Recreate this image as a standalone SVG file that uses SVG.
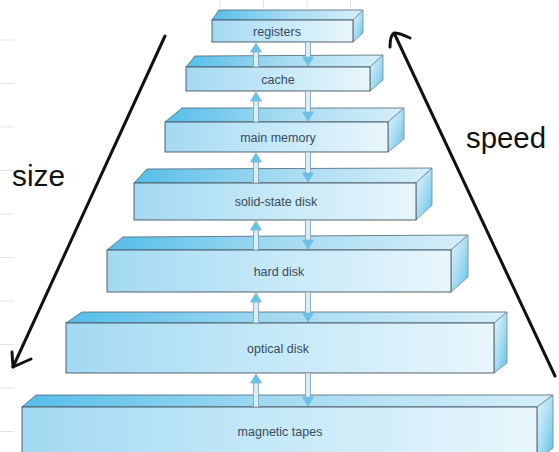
<svg xmlns="http://www.w3.org/2000/svg" width="559" height="452" viewBox="0 0 559 452">
  <defs>
    <linearGradient id="gFront" x1="0" y1="0" x2="1" y2="0">
      <stop offset="0" stop-color="#a3d9f3"/>
      <stop offset="0.5" stop-color="#c6e9f8"/>
      <stop offset="1" stop-color="#e8f6fc"/>
    </linearGradient>
    <linearGradient id="gTop" x1="0" y1="0" x2="1" y2="0">
      <stop offset="0" stop-color="#55bde9"/>
      <stop offset="0.5" stop-color="#a6dbf2"/>
      <stop offset="1" stop-color="#d6eff9"/>
    </linearGradient>
    <linearGradient id="gSide" x1="0" y1="0" x2="1" y2="1">
      <stop offset="0" stop-color="#e6f5fc"/>
      <stop offset="0.55" stop-color="#a3dbf3"/>
      <stop offset="1" stop-color="#5cc0ea"/>
    </linearGradient>
    <style>
      .front { fill: url(#gFront); stroke: #46525e; stroke-width: 0.9; }
      .top { fill: url(#gTop); stroke: #4f6574; stroke-width: 0.8; stroke-linejoin: round; }
      .side { fill: url(#gSide); stroke: #6f8796; stroke-width: 0.8; stroke-linejoin: round; }
      .label { font-family: "Liberation Sans", Arial, sans-serif; font-size: 12.5px; fill: #3b4a58; text-anchor: middle; }
      .shaft { fill: #d8eff9; stroke: #7f9bb0; stroke-width: 0.8; }
      .head { fill: #62c4ee; stroke: #8cb4ca; stroke-width: 0.8; stroke-linejoin: round; }
      .grid { stroke: #e3e3e3; stroke-width: 1; }
      .pen { fill: none; stroke: #111; stroke-width: 3; stroke-linecap: round; stroke-linejoin: round; }
      .hand { font-family: "Liberation Sans", Arial, sans-serif; font-size: 29px; fill: #111; }
    </style>
  </defs>

  <rect width="559" height="452" fill="#ffffff"/>

  <!-- faint grid paper showing at the edges -->
  <g id="grid">
    <line class="grid" x1="0" y1="40" x2="14" y2="40"/>
    <line class="grid" x1="0" y1="83.5" x2="14" y2="83.5"/>
    <line class="grid" x1="0" y1="127" x2="14" y2="127"/>
    <line class="grid" x1="0" y1="170.5" x2="14" y2="170.5"/>
    <line class="grid" x1="0" y1="214" x2="14" y2="214"/>
    <line class="grid" x1="0" y1="257.5" x2="14" y2="257.5"/>
    <line class="grid" x1="0" y1="301" x2="14" y2="301"/>
    <line class="grid" x1="0" y1="344.5" x2="14" y2="344.5"/>
    <line class="grid" x1="0" y1="388" x2="14" y2="388"/>
    <line class="grid" x1="0" y1="431.5" x2="14" y2="431.5"/>
    <line class="grid" x1="220" y1="0" x2="220" y2="8"/>
    <line class="grid" x1="263.5" y1="0" x2="263.5" y2="8"/>
    <line class="grid" x1="307" y1="0" x2="307" y2="8"/>
    <line class="grid" x1="350.5" y1="0" x2="350.5" y2="8"/>
  </g>

  <!-- storage levels, smallest at the top -->
  <g id="registers">
    <polygon class="top" points="212,20 219,10 363,10 353,20"/>
    <polygon class="side" points="353,20 363,10 363,33 353,42"/>
    <rect class="front" x="212" y="20" width="141" height="22"/>
    <text class="label" x="277" y="35.5">registers</text>
  </g>
  <g id="cache">
    <polygon class="top" points="186,67 195,56 383,55 370,67"/>
    <polygon class="side" points="370,67 383,55 383,80 370,91"/>
    <rect class="front" x="186" y="67" width="184" height="24"/>
    <text class="label" x="278" y="83.5">cache</text>
  </g>
  <g id="main-memory">
    <polygon class="top" points="165,122 182,108 404,108 388,122"/>
    <polygon class="side" points="388,122 404,108 404,139 388,152"/>
    <rect class="front" x="165" y="122" width="223" height="30"/>
    <text class="label" x="278" y="142">main memory</text>
  </g>
  <g id="solid-state-disk">
    <polygon class="top" points="134,183 147,169 432,168 416,183"/>
    <polygon class="side" points="416,183 432,168 432,205 416,220"/>
    <rect class="front" x="134" y="183" width="282" height="37"/>
    <text class="label" x="276" y="206">solid-state disk</text>
  </g>
  <g id="hard-disk">
    <polygon class="top" points="107,250 123,237 468,235 451,250"/>
    <polygon class="side" points="451,250 468,235 468,277 451,292"/>
    <rect class="front" x="107" y="250" width="344" height="42"/>
    <text class="label" x="279" y="275.5">hard disk</text>
  </g>
  <g id="optical-disk">
    <polygon class="top" points="66,323 82,312 507,312 494,323"/>
    <polygon class="side" points="494,323 507,312 507,363 494,373"/>
    <rect class="front" x="66" y="323" width="428" height="50"/>
    <text class="label" x="278" y="352.5">optical disk</text>
  </g>
  <g id="magnetic-tapes">
    <polygon class="top" points="22,407 36,395 553,395 537,407"/>
    <polygon class="side" points="537,407 553,395 553,448 537,460"/>
    <rect class="front" x="22" y="407" width="515" height="53"/>
    <text class="label" x="280" y="435.5">magnetic tapes</text>
  </g>

  <!-- transfers between adjacent levels: up at x=256, down at x=308 -->
  <g id="connectors">
    <rect class="shaft" x="253.5" y="51" width="5" height="16"/>
    <polygon class="head" points="256,43 261.5,52 250.5,52"/>
    <rect class="shaft" x="305.5" y="42" width="5" height="16"/>
    <polygon class="head" points="308,66 313.5,57 302.5,57"/>

    <rect class="shaft" x="253.5" y="100" width="5" height="22"/>
    <polygon class="head" points="256,92 261.5,101 250.5,101"/>
    <rect class="shaft" x="305.5" y="91" width="5" height="22"/>
    <polygon class="head" points="308,121 313.5,112 302.5,112"/>

    <rect class="shaft" x="253.5" y="161" width="5" height="22"/>
    <polygon class="head" points="256,153 261.5,162 250.5,162"/>
    <rect class="shaft" x="305.5" y="152" width="5" height="22"/>
    <polygon class="head" points="308,182 313.5,173 302.5,173"/>

    <rect class="shaft" x="253.5" y="229" width="5" height="21"/>
    <polygon class="head" points="256,221 261.5,230 250.5,230"/>
    <rect class="shaft" x="305.5" y="220" width="5" height="21"/>
    <polygon class="head" points="308,249 313.5,240 302.5,240"/>

    <rect class="shaft" x="253.5" y="301" width="5" height="22"/>
    <polygon class="head" points="256,293 261.5,302 250.5,302"/>
    <rect class="shaft" x="305.5" y="292" width="5" height="22"/>
    <polygon class="head" points="308,322 313.5,313 302.5,313"/>

    <rect class="shaft" x="253.5" y="382" width="5" height="25"/>
    <polygon class="head" points="256,374 261.5,383 250.5,383"/>
    <rect class="shaft" x="305.5" y="373" width="5" height="25"/>
    <polygon class="head" points="308,406 313.5,397 302.5,397"/>
  </g>

  <!-- pen annotations -->
  <g id="size-note">
    <path class="pen" d="M165,36 L13,367"/>
    <path class="pen" d="M12,352 L13,367 L31,359"/>
    <text class="hand" x="12" y="186" textLength="53" lengthAdjust="spacingAndGlyphs">size</text>
  </g>
  <g id="speed-note">
    <path class="pen" d="M395,35 L555,376"/>
    <path class="pen" d="M390,47 C390,40 391,35 394,33 C399,33 404,35 410,38"/>
    <text class="hand" x="466" y="148" textLength="80" lengthAdjust="spacingAndGlyphs">speed</text>
  </g>
</svg>
